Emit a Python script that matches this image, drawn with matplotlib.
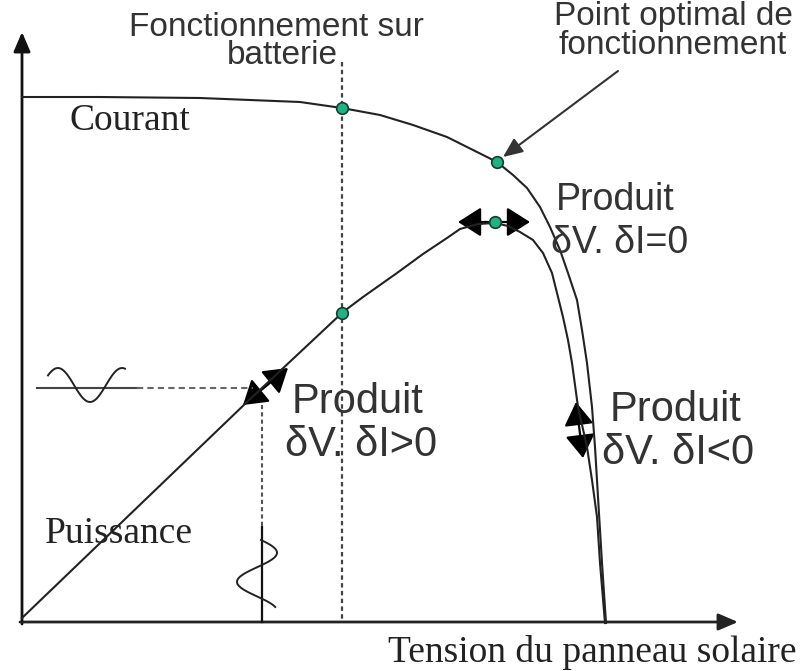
import numpy as np
import matplotlib.pyplot as plt
from matplotlib.patches import FancyArrowPatch, ArrowStyle

# Données (coordonnées en pixels, y vers le bas)
courant_x = [22, 100, 200, 300, 342, 380, 413, 447, 473, 497, 513, 527, 540, 550, 560,
             568, 577, 582, 587, 592, 595, 598, 602, 606]
courant_y = [97, 97, 98, 102, 108, 115, 125, 137, 150, 162, 175, 188, 207, 227, 250,
             273, 300, 330, 363, 407, 447, 497, 563, 623]

puissance_x = [22, 247, 343, 363, 380, 397, 423, 447, 460, 478, 495, 508, 520, 533, 543,
               552, 558, 563, 568, 572, 578, 587, 592, 597, 600, 605]
puissance_y = [618, 402, 312, 297, 285, 273, 254, 238, 229, 224, 223, 226, 232, 240, 253,
               273, 297, 317, 340, 363, 407, 447, 480, 517, 563, 623]

# points verts : batterie (courant, puissance), optimum (courant, puissance)
points_x = [342, 342, 497, 495]
points_y = [108, 313, 162, 222]

x_batterie = 342
x_perturb = 262
y_perturb = 388

sans = ['Liberation Sans', 'DejaVu Sans']
serif = ['Liberation Serif', 'DejaVu Serif']

fig = plt.figure(figsize=(8.03, 6.71), dpi=100)
ax = fig.add_axes([0, 0, 1, 1])
ax.set_xlim(0, 803)
ax.set_ylim(671, 0)
ax.axis('off')

tete_axe = ArrowStyle('-|>', head_length=0.7, head_width=0.3)
tete_double = ArrowStyle('<|-|>', head_length=0.6, head_width=0.38)

# axes du graphe
ax.add_patch(FancyArrowPatch((22, 624), (22, 32), arrowstyle=tete_axe, mutation_scale=17,
                             lw=2, color='#111111', shrinkA=0, shrinkB=0))
ax.add_patch(FancyArrowPatch((20, 622), (738, 622), arrowstyle=tete_axe, mutation_scale=17,
                             lw=2, color='#222222', shrinkA=0, shrinkB=0))

# courbes
ax.plot(courant_x, courant_y, color='#222222', lw=1.5, solid_joinstyle='round')
ax.plot(puissance_x, puissance_y, color='#222222', lw=1.5, solid_joinstyle='round')

# verticale fonctionnement sur batterie
ax.plot([x_batterie, x_batterie], [62, 622], color='#444444', lw=1.6, ls=(0, (2, 1.5)))

# perturbation horizontale / verticale
ax.plot([37, 137], [y_perturb, y_perturb], color='#444444', lw=1.5)
ax.plot([137, 253], [y_perturb, y_perturb], color='#666666', lw=1.5, ls=(0, (3, 2)))
ax.plot([x_perturb, x_perturb], [405, 527], color='#555555', lw=1.5, ls=(0, (2, 1.5)))
ax.plot([x_perturb, x_perturb], [527, 622], color='#111111', lw=1.6)

# petites sinusoïdes
t = np.linspace(0, 1, 60)
sx = 48 + 77 * t
sy = 385 - 17 * np.sin(2 * np.pi * 1.2 * t + 0.6)
ax.plot(sx, sy, color='#222222', lw=1.4)
vy = 540 + 67 * t
vx = 257 + 20 * np.sin(2 * np.pi * 1.15 * t + 0.2)
ax.plot(vx, vy, color='#222222', lw=1.4)

# flèches
def double_fleche(p1, p2):
    ax.add_patch(FancyArrowPatch(p1, p2, arrowstyle=tete_double, mutation_scale=24,
                                 lw=1.6, color='black', shrinkA=0, shrinkB=0))

double_fleche((243, 405), (288, 368))
double_fleche((458, 222), (530, 222))
double_fleche((576, 402), (583, 458))
ax.add_patch(FancyArrowPatch((618, 71), (503, 157), arrowstyle=tete_axe, mutation_scale=17,
                             lw=1.5, color='#333333', shrinkA=0, shrinkB=0))

# points verts
ax.scatter(points_x, points_y, s=70, color='#1db382', edgecolor='#1a3a30', lw=1.2, zorder=5)

# textes
ax.text(276, 27, 'Fonctionnement sur', family=sans, fontsize=24, color='#333333',
        ha='center', va='center')
ax.text(282, 56, 'batterie', family=sans, fontsize=24, color='#333333',
        ha='center', va='center')
ax.text(673, 17, 'Point optimal de', family=sans, fontsize=24, color='#333333',
        ha='center', va='center')
ax.text(673, 46, 'fonctionnement', family=sans, fontsize=24, color='#333333',
        ha='center', va='center')
ax.text(70, 121, 'Courant', family=serif, fontsize=27, color='#222222', va='center')
ax.text(45, 534, 'Puissance', family=serif, fontsize=27, color='#222222', va='center')
ax.text(592, 653, 'Tension du panneau solaire', family=serif, fontsize=27, color='#222222',
        ha='center', va='center')

ax.text(615, 200, 'Produit', family=sans, fontsize=27, color='#333333', ha='center', va='center')
ax.text(620, 243, 'δV. δI=0', family=sans, fontsize=27, color='#333333', ha='center', va='center')
ax.text(358, 402, 'Produit', family=sans, fontsize=30, color='#333333', ha='center', va='center')
ax.text(361, 445, 'δV. δI>0', family=sans, fontsize=30, color='#333333', ha='center', va='center')
ax.text(676, 410, 'Produit', family=sans, fontsize=30, color='#333333', ha='center', va='center')
ax.text(678, 453, 'δV. δI<0', family=sans, fontsize=30, color='#333333', ha='center', va='center')

fig.savefig('out.png', dpi=100)
